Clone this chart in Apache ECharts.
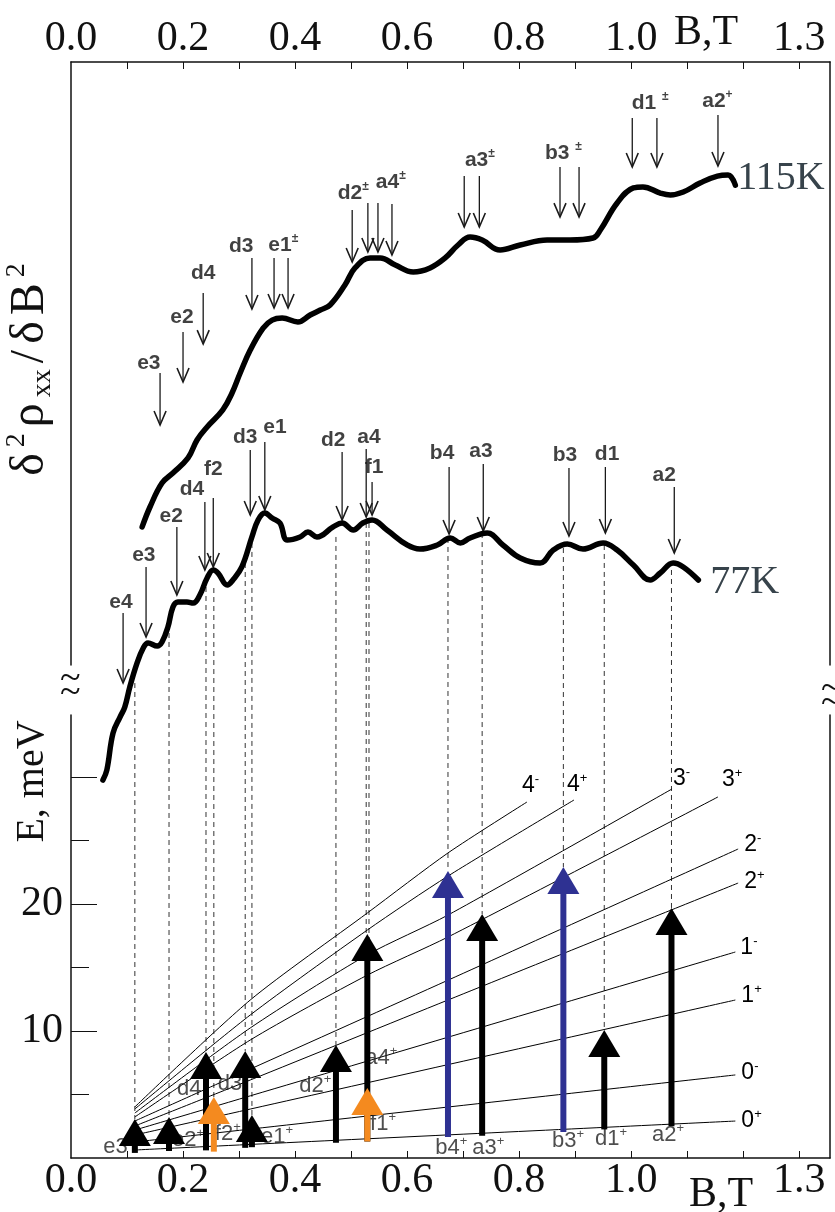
<!DOCTYPE html>
<html><head><meta charset="utf-8">
<script src="https://cdn.jsdelivr.net/npm/echarts@6/dist/echarts.min.js"></script>
<style>html,body{margin:0;padding:0;background:#fff}#c{width:835px;height:1212px}</style>
</head><body><div id="c"></div>
<script>
// ---------------- data ----------------
const xTickValues = [0.1,0.2,0.3,0.4,0.5,0.6,0.7,0.8,0.9,1.0,1.1,1.2,1.3];
const xLabelValues = [0,0.2,0.4,0.6,0.8,1.0,1.2,1.3];
const eMajorTicks = [10,20,30];
const eMinorTicks = [5,15,25];
const eLabelValues = [10,20];

// d2rho/dB2 curves (arbitrary units, drawn on the same vertical scale)
const curve115 = [[0.127,49.69],[0.141,51.26],[0.1625,53.15],[0.182,53.94],[0.209,55.12],[0.225,56.54],[0.243,57.56],[0.271,58.90],[0.2875,60.24],[0.302,61.81],[0.320,63.62],[0.343,65.35],[0.359,65.98],[0.377,66.14],[0.405,65.83],[0.427,66.38],[0.445,66.77],[0.4625,67.17],[0.489,68.74],[0.507,70.08],[0.534,70.87],[0.552,70.87],[0.579,70.31],[0.611,69.76],[0.641,70.08],[0.668,70.87],[0.691,71.89],[0.7125,72.52],[0.734,72.28],[0.766,71.50],[0.802,71.89],[0.850,72.28],[0.891,72.28],[0.932,72.44],[0.945,73.07],[0.975,75.20],[1.004,76.38],[1.021,76.46],[1.052,75.98],[1.070,75.83],[1.093,76.06],[1.123,76.77],[1.154,77.32],[1.173,77.40],[1.186,76.61]];
const curve77 = [[0.057,29.76],[0.064,30.55],[0.075,33.46],[0.0875,34.72],[0.096,35.51],[0.105,37.09],[0.118,38.98],[0.129,40.16],[0.1375,40.55],[0.154,40.31],[0.1625,40.63],[0.173,41.81],[0.182,43.39],[0.191,43.78],[0.207,43.78],[0.218,43.70],[0.230,44.33],[0.243,45.67],[0.254,46.30],[0.2625,46.06],[0.279,45.12],[0.289,45.51],[0.305,46.54],[0.323,48.90],[0.334,50.24],[0.346,50.79],[0.359,50.39],[0.373,50.00],[0.386,48.66],[0.409,48.90],[0.423,49.29],[0.439,48.90],[0.468,49.69],[0.484,50.00],[0.504,49.45],[0.521,50.00],[0.5375,50.24],[0.564,49.45],[0.600,48.27],[0.623,47.95],[0.654,48.27],[0.677,48.82],[0.695,48.43],[0.7125,48.82],[0.743,49.21],[0.771,48.27],[0.802,47.24],[0.8375,46.85],[0.861,47.87],[0.886,48.35],[0.914,47.95],[0.950,48.43],[0.975,47.87],[1.004,46.69],[1.034,45.51],[1.052,46.06],[1.075,46.85],[1.093,46.54],[1.120,45.51]];

// Landau levels E (meV) vs B (T)
const level0p = [[0.114,0.63],[1.186,2.91]];
const level0m = [[0.114,1.26],[1.186,6.54]];
const level1p = [[0.114,1.81],[1.186,12.44]];
const level1m = [[0.114,2.20],[1.186,16.22]];
const level2p = [[0.114,2.52],[0.320,6.14],[0.673,12.44],[1.191,21.65]];
const level2m = [[0.114,2.91],[0.320,7.0],[0.673,14.0],[1.191,24.33]];
const level3p = [[0.114,3.23],[0.320,9.29],[0.529,14.4],[0.673,17.4],[1.155,28.43]];
const level3m = [[0.114,3.54],[0.320,10.24],[0.529,16.0],[0.673,19.13],[1.073,29.06]];
const level4p = [[0.114,3.86],[0.320,11.26],[0.529,17.95],[0.673,22.2],[0.898,28.19]];
const level4m = [[0.114,4.02],[0.320,12.44],[0.529,19.29],[0.673,24.02],[0.814,28.03]];

// transitions: [B, E start, E end]
const transBlack = [[0.114,0.40,3.07],[0.175,0.55,3.23],[0.241,0.60,8.35],[0.311,0.80,8.43],[0.323,0.85,3.39],[0.473,1.20,8.90],[0.529,1.30,17.64],[0.734,1.75,19.21],[0.952,2.25,10.08],[1.072,2.50,19.69]];
const transOrange = [[0.255,0.50,4.80],[0.529,1.30,5.51]];
const transBlue = [[0.673,1.65,22.6],[0.879,2.05,22.91]];
// transition labels: [name, sup, B, E]
const transLabels = [['e3','+',0.086,0.87],['e2','+',0.209,1.42],['f2','+',0.280,1.89],['e1','+',0.368,1.65],['d4','',0.211,5.43],['d3','',0.284,5.83],['d2','+',0.436,5.67],['a4','+',0.554,7.87],['f1','+',0.557,2.68],['b4','+',0.679,0.79],['a3','+',0.745,0.79],['b3','+',0.8875,1.34],['d1','+',0.964,1.50],['a2','+',1.066,1.81]];

// dashed guides from 77K features to transitions: [B, top, bottom]
const dashLines = [[0.114,37.40,3.07],[0.175,41.34,3.23],[0.241,44.96,8.35],[0.255,44.88,4.80],[0.311,46.85,8.43],[0.323,48.43,3.39],[0.473,48.90,8.90],[0.527,50.0,17.64],[0.532,50.0,5.51],[0.673,48.82,22.6],[0.734,49.21,19.21],[0.879,48.03,22.91],[0.952,48.27,10.08],[1.072,46.30,19.69]];

// feature markers on the curves: [B, top, tip]
const mark77 = [[0.093,42.91,37.40],[0.134,46.54,41.02],[0.189,49.69,44.33],[0.239,51.65,46.30],[0.254,51.97,46.54],[0.320,55.75,50.63],[0.346,56.38,51.02],[0.484,55.59,50.24],[0.527,55.83,50.47],[0.5375,53.23,50.63],[0.675,54.41,49.13],[0.736,54.65,49.37],[0.889,54.33,48.98],[0.954,54.41,49.21],[1.077,52.83,47.64]];
const labels77 = [['e4','',0.0893,43.78],['e3','',0.130,47.48],['e2','',0.179,50.55],['d4','',0.216,52.68],['f2','',0.254,54.25],['d3','',0.311,56.77],['e1','',0.364,57.56],['d2','',0.468,56.54],['a4','',0.532,56.77],['f1','',0.541,54.41],['b4','',0.6625,55.51],['a3','',0.732,55.67],['b3','',0.882,55.35],['d1','',0.957,55.43],['a2','',1.059,53.78]];
const mark115 = [[0.159,61.81,57.72],[0.200,65.04,61.10],[0.236,68.11,64.09],[0.323,70.87,66.85],[0.3625,70.87,66.93],[0.3875,70.87,66.93],[0.502,74.65,70.55],[0.530,75.20,71.34],[0.548,75.20,71.34],[0.573,75.12,71.10],[0.702,77.32,73.31],[0.729,77.32,73.31],[0.873,78.03,74.09],[0.907,78.03,74.09],[1.002,81.89,78.03],[1.046,81.89,78.03],[1.155,82.13,78.11]];
const labels115 = [['e3','',0.139,62.60],['e2','',0.198,66.22],['d4','',0.236,69.69],['d3','',0.304,71.81],['e1','±',0.379,71.89],['d2','±',0.504,75.98],['a4','±',0.571,76.85],['a3','±',0.730,78.58],['b3 ','±',0.879,79.13],['d1 ','±',1.034,83.07],['a2','+',1.154,83.23]];

// ---------------- chart ----------------
const SERIF = '"Liberation Serif","Times New Roman",serif';
const SANS = '"Liberation Sans",Arial,sans-serif';
const X_MIN = 0, X_MAX = 1.355, Y_MAX = 86.3, E_MAX = 34.88;
const chart = echarts.init(document.getElementById('c'), null, {renderer:'canvas'});

function xFmt(v){
  const k = Math.round(v*10);
  if (k === 12) return '{bt|B,T}';
  return (k/10).toFixed(1);
}
function xAxisCfg(pos, btStyle){
  return {
    type:'value', gridIndex:0, position:pos, min:X_MIN, max:X_MAX,
    axisLine:{show:true, onZero:false, lineStyle:{color:'#111', width:1.5}},
    axisTick:{show:true, inside:true, length:7, customValues:xTickValues, lineStyle:{color:'#111', width:1}},
    axisLabel:{show:true, customValues:xLabelValues, margin:2, formatter:xFmt,
      fontFamily:SERIF, fontSize:42, color:'#111', rich:{bt:btStyle}},
    splitLine:{show:false}
  };
}
function hiddenX(g){ return {type:'value', gridIndex:g, min:X_MIN, max:X_MAX, show:false}; }

function renderThick(params, api){
  const p0 = api.coord([api.value(0), api.value(1)]);
  const p1 = api.coord([api.value(0), api.value(2)]);
  const color = api.visual('color');
  const hh = 27, hw = 16, sw = 3;
  return {type:'group', children:[
    {type:'rect', shape:{x:p0[0]-sw, y:p1[1]+hh-2, width:sw*2, height:p0[1]-(p1[1]+hh-2)}, style:{fill:color}},
    {type:'polygon', shape:{points:[[p1[0],p1[1]],[p1[0]-hw,p1[1]+hh],[p1[0]+hw,p1[1]+hh]]}, style:{fill:color}}
  ]};
}
function renderThin(params, api){
  const p0 = api.coord([api.value(0), api.value(1)]);
  const p1 = api.coord([api.value(0), api.value(2)]);
  return {type:'group', children:[
    {type:'line', shape:{x1:p0[0],y1:p0[1],x2:p1[0],y2:p1[1]}, style:{stroke:'#1a1a1a', lineWidth:1.3}},
    {type:'polyline', shape:{points:[[p1[0]-6,p1[1]-14],[p1[0],p1[1]],[p1[0]+6,p1[1]-14]]}, style:{stroke:'#1a1a1a', lineWidth:1.6, fill:null}}
  ]};
}
function renderDash(params, api){
  const p0 = api.coord([api.value(0), api.value(1)]);
  const p1 = api.coord([api.value(0), api.value(2)]);
  return {type:'line', shape:{x1:p0[0],y1:p0[1],x2:p1[0],y2:p1[1]}, style:{stroke:'#333', lineWidth:1, lineDash:[5,4]}};
}

function levelSeries(name, data, num, sign, offset){
  return {
    type:'line', name:name, data:data, xAxisIndex:0, yAxisIndex:0, smooth:0.25,
    showSymbol:false, symbol:'none', z:3,
    lineStyle:{color:'#000', width:1},
    endLabel:{show:true, distance:5, offset:offset, formatter:'{n|'+num+'}{s|'+sign+'}',
      rich:{n:{fontFamily:SANS, fontSize:23, color:'#000', lineHeight:26},
            s:{fontFamily:SANS, fontSize:13, color:'#000', lineHeight:13, verticalAlign:'top'}}}
  };
}
function labelSeries(list, bold, size, supSize, color){
  return {
    type:'scatter', xAxisIndex:0, yAxisIndex:0, symbolSize:1, z:4,
    itemStyle:{color:'rgba(0,0,0,0)'},
    data:list.map(r => ({value:[r[2], r[3]], nm:r[0], sp:r[1]})),
    label:{show:true, position:'inside',
      formatter:p => '{b|'+p.data.nm+'}' + (p.data.sp ? '{s|'+p.data.sp+'}' : ''),
      rich:{b:{fontFamily:SANS, fontSize:size, fontWeight:bold?'bold':'normal', color:color, lineHeight:size+4},
            s:{fontFamily:SANS, fontSize:supSize, fontWeight:bold?'bold':'normal', color:color, lineHeight:supSize, verticalAlign:'top'}}},
    emphasis:{disabled:true}, silent:true
  };
}
function arrowSeries(data, color, render, z){
  return {type:'custom', xAxisIndex:0, yAxisIndex:0, data:data, renderItem:render,
    itemStyle:{color:color}, z:z, silent:true, clip:false};
}
function gridCfg(top, bottom){
  return {left:71, right:5, top:top, bottom:bottom, containLabel:false, outerBoundsMode:'none'};
}

const NP = [0,3,0,3];
const option = {
  backgroundColor:'#fff', animation:false,
  grid:[ gridCfg(62,54), gridCfg(715,54), gridCfg(62,547) ],
  xAxis:[
    xAxisCfg('bottom', {fontFamily:SERIF, fontSize:42, color:'#111', padding:[14,44,0,0]}),
    xAxisCfg('top', {fontFamily:SERIF, fontSize:42, color:'#111', padding:[0,74,6,0]}),
    hiddenX(1), hiddenX(2)
  ],
  yAxis:[
    {type:'value', gridIndex:0, min:0, max:Y_MAX, show:false},
    {type:'value', gridIndex:1, position:'left', min:0, max:E_MAX,
      axisLine:{show:true, onZero:false, lineStyle:{color:'#111', width:1.5}},
      axisTick:{show:true, inside:true, length:26, customValues:eMajorTicks, lineStyle:{color:'#111', width:1}},
      axisLabel:{show:true, customValues:eLabelValues, margin:8, fontFamily:SERIF, fontSize:42, color:'#111'},
      splitLine:{show:false},
      name:'E, meV', nameLocation:'middle', nameRotate:90, nameGap:19, nameMoveOverlap:false,
      nameTextStyle:{fontFamily:SERIF, fontSize:40, color:'#111', padding:[0,0,0,310]}},
    {type:'value', gridIndex:1, position:'left', min:0, max:E_MAX,
      axisLine:{show:false, onZero:false},
      axisTick:{show:true, inside:true, length:18, customValues:eMinorTicks, lineStyle:{color:'#111', width:1}},
      axisLabel:{show:false}, splitLine:{show:false}},
    {type:'value', gridIndex:1, position:'right', min:0, max:E_MAX,
      axisLine:{show:true, onZero:false, lineStyle:{color:'#111', width:1.5}},
      axisTick:{show:false}, axisLabel:{show:false}, splitLine:{show:false}},
    {type:'value', gridIndex:2, position:'left', min:0, max:1,
      axisLine:{show:true, onZero:false, lineStyle:{color:'#111', width:1.5}},
      axisTick:{show:false}, axisLabel:{show:false}, splitLine:{show:false},
      name:'{n|δ}{p|2}{n|ρ}{q|xx}{n|/}{n|δ}{n|B}{p|2}', nameLocation:'middle', nameRotate:90, nameGap:14, nameMoveOverlap:false,
      nameTextStyle:{padding:[0,12,0,0], rich:{
        n:{fontFamily:SERIF, fontSize:48, color:'#111', lineHeight:54, padding:NP},
        p:{fontFamily:SERIF, fontSize:28, color:'#111', lineHeight:28, verticalAlign:'top', padding:NP},
        q:{fontFamily:SERIF, fontSize:28, color:'#111', lineHeight:28, verticalAlign:'bottom', padding:NP}}}},
    {type:'value', gridIndex:2, position:'right', min:0, max:1,
      axisLine:{show:true, onZero:false, lineStyle:{color:'#111', width:1.5}},
      axisTick:{show:false}, axisLabel:{show:false}, splitLine:{show:false}}
  ],
  graphic:[
    {type:'text', left:60, top:660, style:{text:'~\n~', font:'38px '+SERIF, fill:'#111', lineHeight:14}},
    {type:'text', left:821, top:670, style:{text:'~\n~', font:'38px '+SERIF, fill:'#111', lineHeight:14}}
  ],
  series:[
    arrowSeries(dashLines, '#333', renderDash, 1),
    levelSeries('0+', level0p, '0', '+', [1,0]),
    levelSeries('0-', level0m, '0', '-', [1,-2]),
    levelSeries('1+', level1p, '1', '+', [1,-4]),
    levelSeries('1-', level1m, '1', '-', [0,-4]),
    levelSeries('2+', level2p, '2', '+', [1,-1]),
    levelSeries('2-', level2m, '2', '-', [1,-4]),
    levelSeries('3+', level3p, '3', '+', [-1,-17]),
    levelSeries('3-', level3m, '3', '-', [-4,-10]),
    levelSeries('4+', level4p, '4', '+', [-12,-15]),
    levelSeries('4-', level4m, '4', '-', [-10,-16]),
    labelSeries(transLabels, false, 22, 13, '#222'),
    arrowSeries(transBlack, '#000', renderThick, 6),
    arrowSeries(transBlue, '#2e3192', renderThick, 7),
    arrowSeries(transOrange, '#f48a1f', renderThick, 8),
    arrowSeries(mark77, '#1a1a1a', renderThin, 5),
    arrowSeries(mark115, '#1a1a1a', renderThin, 5),
    labelSeries(labels77, true, 21, 12, '#111'),
    labelSeries(labels115, true, 21, 12, '#111'),
    {type:'line', name:'115K', data:curve115, xAxisIndex:0, yAxisIndex:0, smooth:0.4,
      showSymbol:false, symbol:'none', z:5, lineStyle:{color:'#000', width:5.5, cap:'round', join:'round'},
      endLabel:{show:true, distance:2, offset:[0,-7], formatter:'115K', fontFamily:SERIF, fontSize:40, color:'#37434b'}},
    {type:'line', name:'77K', data:curve77, xAxisIndex:0, yAxisIndex:0, smooth:0.4,
      showSymbol:false, symbol:'none', z:5, lineStyle:{color:'#000', width:5.5, cap:'round', join:'round'},
      endLabel:{show:true, distance:12, offset:[0,2], formatter:'77K', fontFamily:SERIF, fontSize:40, color:'#37434b'}}
  ]
};
chart.setOption(option);
</script></body></html>
